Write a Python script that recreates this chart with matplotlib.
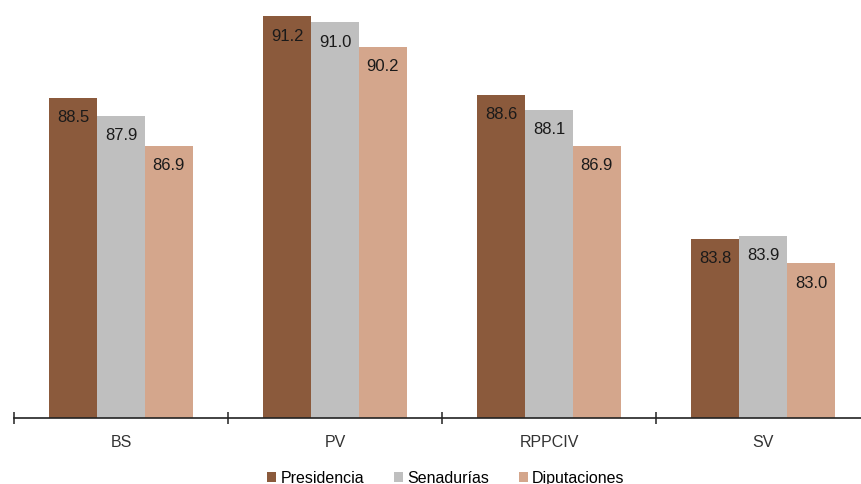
import numpy as np
import matplotlib.pyplot as plt
from matplotlib.patches import Patch

plt.rcParams['font.family'] = ['Liberation Sans', 'DejaVu Sans']

categories = ['BS', 'PV', 'RPPCIV', 'SV']
series = ['Presidencia', 'Senadurías', 'Diputaciones']
presidencia = [88.5, 91.2, 88.6, 83.8]
senadurias = [87.9, 91.0, 88.1, 83.9]
diputaciones = [86.9, 90.2, 86.9, 83.0]
colors = ['#8B5A3C', '#BFBFBF', '#D4A68C']

fig = plt.figure(figsize=(8.61, 4.85), dpi=100)
ax = fig.add_axes([14/861, 66/485, 856/861, 419/485])

x = np.arange(len(categories))
w = 0.224
for i, (vals, c) in enumerate(zip([presidencia, senadurias, diputaciones], colors)):
    pos = x + (i - 1) * w
    ax.bar(pos, vals, width=w, color=c, edgecolor='none', zorder=2)
    for p, v in zip(pos, vals):
        ax.text(p, v - 0.63, '%.1f' % v, ha='center', va='center',
                fontsize=12, color='#1a1a1a', zorder=3)

ax.set_xlim(-0.5, 3.5)
ax.set_ylim(77.85, 91.78)
ax.set_yticks([])
for s in ['top', 'right', 'left']:
    ax.spines[s].set_visible(False)
ax.spines['bottom'].set_color('#222222')
ax.spines['bottom'].set_linewidth(1.2)
ax.set_xticks(np.arange(-0.5, 4, 1))
ax.set_xticklabels([])
ax.tick_params(axis='x', direction='inout', length=8, width=1.1, color='#222222')
for xi, lab in zip(x, categories):
    ax.text(xi, -0.055, lab, transform=ax.get_xaxis_transform(), ha='center',
            va='center', fontsize=11.5, color='#333333')

handles = [Patch(facecolor=c, edgecolor='none') for c in colors]
fig.legend(handles, series, loc='center', bbox_to_anchor=(446/861, 1 - 479/485),
           ncol=3, frameon=False, fontsize=11.5, handlelength=0.55, handleheight=0.55,
           handletextpad=0.25, columnspacing=1.9)

fig.savefig('out.png', dpi=100)
